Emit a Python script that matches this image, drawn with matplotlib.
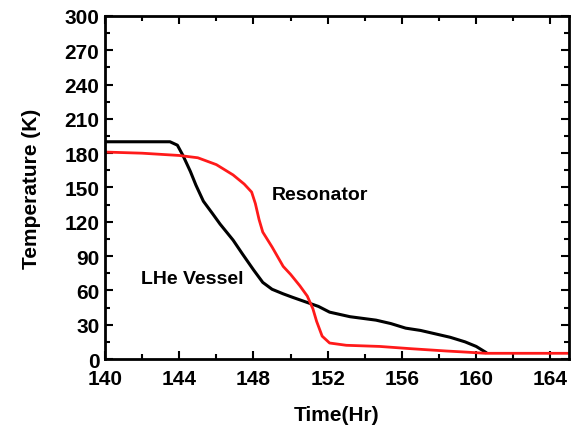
import matplotlib.pyplot as plt
from matplotlib.ticker import MultipleLocator

plt.rcParams['font.family'] = ['Liberation Sans', 'DejaVu Sans']
plt.rcParams['font.weight'] = 'bold'

# LHe vessel temperature (black)
t_vessel = [140, 143.5, 143.9, 144.2, 144.6, 144.9, 145.3, 145.8, 146.2, 146.9, 147.4,
            148.0, 148.5, 149.0, 149.6, 150.1, 150.8, 151.5, 152.1, 153.2,
            154.6, 155.4, 156.2, 157.0, 157.8, 158.6, 159.4, 160.0, 160.5]
T_vessel = [190, 190, 187, 178, 164, 152, 138, 127, 118, 104, 92,
            78, 67, 61, 57, 54, 50, 46, 41, 37,
            34, 31, 27, 25, 22, 19, 15, 11, 6]

# Resonator temperature (red)
t_res = [140, 142, 144.0, 145.0, 146.0, 146.9, 147.5, 147.9, 148.1, 148.3,
         148.5, 149.0, 149.6, 150.0, 150.5, 150.9, 151.2, 151.4, 151.7, 152.1,
         153.0, 154.8, 156.5, 158.4, 159.5, 160.5, 162, 165]
T_res = [181, 180, 178, 176, 170, 161, 153, 146, 136, 122,
         111, 98, 81, 74, 64, 55, 44, 33, 20, 14,
         12, 11, 9, 7, 6, 5, 5, 5]

fig = plt.figure(figsize=(5.78, 4.31), dpi=100)
ax = fig.add_axes([0.1817, 0.1647, 0.8027, 0.7959])

ax.plot(t_vessel, T_vessel, color='black', linewidth=2.2)
ax.plot(t_res, T_res, color='#ff1a1a', linewidth=2.0)

ax.set_xlim(140, 165)
ax.set_ylim(0, 300)
ax.xaxis.set_major_locator(MultipleLocator(4))
ax.xaxis.set_minor_locator(MultipleLocator(2))
ax.yaxis.set_major_locator(MultipleLocator(30))
ax.yaxis.set_minor_locator(MultipleLocator(15))
ax.tick_params(which='both', direction='in', top=True, right=True,
               width=1.5, labelsize=15)
ax.tick_params(axis='x', pad=7.5)
ax.tick_params(axis='y', pad=4)
ax.tick_params(which='major', length=6)
ax.tick_params(which='minor', length=3.5)
for lab in ax.get_xticklabels() + ax.get_yticklabels():
    lab.set_fontweight('bold')
for s in ax.spines.values():
    s.set_linewidth(2)

ax.set_xlabel('Time(Hr)', fontsize=15, fontweight='bold', labelpad=12)
ax.set_ylabel('Temperature (K)', fontsize=15, fontweight='bold', labelpad=17)

ax.text(151.6, 144, 'Resonator', fontsize=14, fontweight='bold',
        ha='center', va='center')
ax.text(144.7, 70, 'LHe Vessel', fontsize=14, fontweight='bold',
        ha='center', va='center')

fig.savefig('out.png', dpi=100)
